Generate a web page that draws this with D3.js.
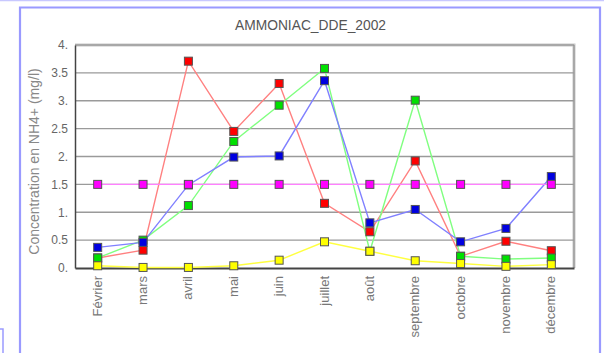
<!DOCTYPE html>
<html><head><meta charset="utf-8">
<script src="https://cdn.jsdelivr.net/npm/d3@7"></script>
<style>body{margin:0;background:#fff}svg{display:block}</style>
</head><body>
<script>
const months = ["Février","mars","avril","mai","juin","juillet","août","septembre","octobre","novembre","décembre"];
const yTicks = [0,0.5,1,1.5,2,2.5,3,3.5,4];
const yTickLabels = ["0.","0.5","1.","1.5","2.","2.5","3.","3.5","4."];
const redValues = [0.18,0.32,3.71,2.45,3.31,1.16,0.65,1.92,0.21,0.48,0.31];
const greenValues = [0.18,0.5,1.12,2.27,2.92,3.58,0.3,3.01,0.21,0.16,0.18];
const blueValues = [0.37,0.46,1.49,1.99,2.01,3.36,0.81,1.05,0.47,0.71,1.64];
const yellowValues = [0.04,0.01,0.01,0.04,0.14,0.47,0.3,0.13,0.08,0.03,0.06];
const magentaValues = [1.5,1.5,1.5,1.5,1.5,1.5,1.5,1.5,1.5,1.5,1.5];
const title = "AMMONIAC_DDE_2002";
const yTitle = "Concentration en NH4+ (mg/l)";

const series = [
  {values: redValues, line: "#ff8080", fill: "#ff0000"},
  {values: greenValues, line: "#80ff80", fill: "#00e000"},
  {values: blueValues, line: "#8080ff", fill: "#0000e0"},
  {values: yellowValues, line: "#ffff40", fill: "#ffff00"},
  {values: magentaValues, line: "#ff80ff", fill: "#ff00ff"}
];

const W = 604, H = 353;
const svg = d3.select("body").append("svg").attr("width", W).attr("height", H);
const font = "Liberation Sans, Arial, sans-serif";

// outer frames
svg.append("line").attr("x1",0).attr("x2",W).attr("y1",0.5).attr("y2",0.5).attr("stroke","#c8c8ff").attr("stroke-width",1.5);
svg.append("path").attr("d","M20,353 V7.5 H600 V353").attr("fill","none").attr("stroke","#9a9aff").attr("stroke-width",2.2);
svg.append("path").attr("d","M0,329 H3 V353").attr("fill","none").attr("stroke","#9a9aff").attr("stroke-width",1.5);

const x = d3.scaleBand().domain(months).range([75, 574]);
const y = d3.scaleLinear().domain([0, 4]).range([268, 45]);

// plot frame top/right shadow
svg.append("path").attr("d",`M75,45 H574 V268`).attr("fill","none").attr("stroke","#c8c8c8").attr("stroke-width",3);
svg.append("path").attr("d",`M75,45 H574 V268`).attr("fill","none").attr("stroke","#888").attr("stroke-width",1);

// gridlines
svg.append("g").selectAll("line").data(yTicks.filter(d=>d>0 && d<4)).join("line")
  .attr("x1",75).attr("x2",574).attr("y1",d=>y(d)).attr("y2",d=>y(d))
  .attr("stroke","#9a9a9a").attr("stroke-width",1.3);

// axes
const yAxis = d3.axisLeft(y).tickValues(yTicks).tickFormat((d,i)=>yTickLabels[i]).tickSize(0).tickPadding(7);
const gy = svg.append("g").attr("transform","translate(75,0)").call(yAxis);
gy.select(".domain").attr("stroke","#444").attr("stroke-width",1.5);
gy.selectAll("text").attr("font-family",font).attr("font-size",12).attr("fill","#666");

const xAxis = d3.axisBottom(x).tickSize(0).tickPadding(0);
const gx = svg.append("g").attr("transform","translate(0,268)").call(xAxis);
gx.select(".domain").attr("stroke","#444").attr("stroke-width",2);
gx.selectAll("text").attr("font-family",font).attr("font-size",13).attr("fill","#777")
  .attr("text-anchor","end").attr("dy",null).attr("y",0)
  .attr("transform","translate(4,8) rotate(-90)");

// title
svg.append("text").attr("x",310.5).attr("y",30).attr("text-anchor","middle")
  .attr("font-family",font).attr("font-size",13.8).attr("fill","#555").text(title);
svg.append("text").attr("transform","translate(38.5,161.5) rotate(-90)").attr("text-anchor","middle")
  .attr("font-family",font).attr("font-size",14).attr("fill","#888").text(yTitle);

const cx = m => x(m) + x.bandwidth()/2;
const line = d3.line().x((d,i)=>cx(months[i])).y(d=>y(d));

series.forEach(s => {
  svg.append("path").datum(s.values).attr("d", line).attr("fill","none")
    .attr("stroke", s.line).attr("stroke-width",1.4);
});
series.forEach(s => {
  svg.append("g").selectAll("rect").data(s.values).join("rect")
    .attr("x",(d,i)=>cx(months[i])-4).attr("y",d=>y(d)-4)
    .attr("width",8).attr("height",8)
    .attr("fill",s.fill).attr("stroke","#555").attr("stroke-width",1);
});
</script>
</body></html>
